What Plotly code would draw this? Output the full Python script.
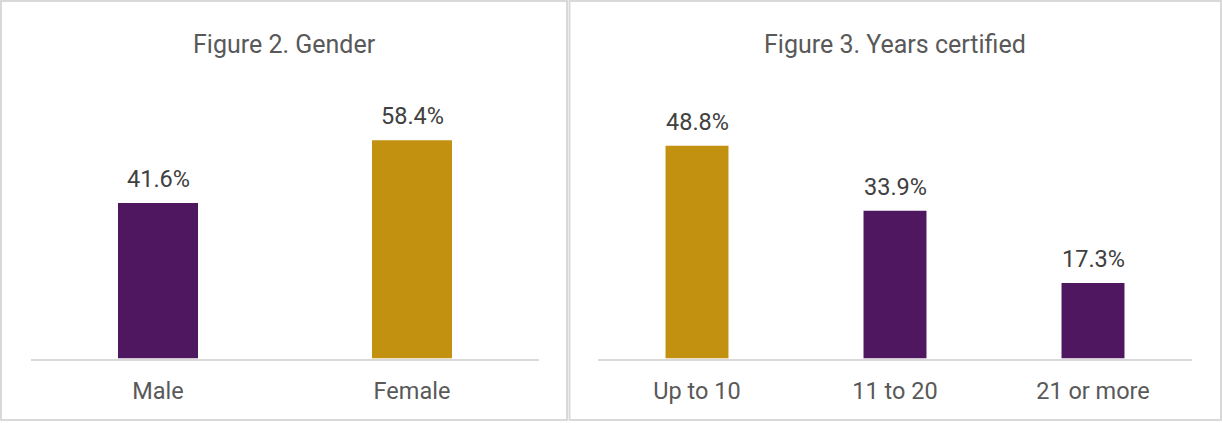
import plotly.graph_objects as go

# Figure 2 data
gender_cats = ["Male", "Female"]
gender_vals = [41.6, 58.4]
gender_colors = ["#4E1760", "#C1910F"]

# Figure 3 data
years_cats = ["Up to 10", "11 to 20", "21 or more"]
years_vals = [48.8, 33.9, 17.3]
years_colors = ["#C1910F", "#4E1760", "#4E1760"]

titles = ["Figure 2. Gender", "Figure 3. Years certified"]

W, H = 1222, 423
LABEL_FONT = dict(family="Roboto, sans-serif", size=23.5, color="#404040")
TICK_FONT = dict(family="Roboto, sans-serif", size=23.5, color="#595959")
TITLE_FONT = dict(family="Roboto, sans-serif", size=25, color="#595959")

fig = go.Figure()

fig.add_trace(go.Bar(x=gender_cats, y=gender_vals, marker=dict(color=gender_colors, line_width=0),
                     width=0.315, xaxis="x", yaxis="y", hoverinfo="skip"))
fig.add_trace(go.Bar(x=years_cats, y=years_vals, marker=dict(color=years_colors, line_width=0),
                     width=0.318, xaxis="x2", yaxis="y2", hoverinfo="skip"))

annotations = []
for cats, vals, xr, yr in [(gender_cats, gender_vals, "x", "y"),
                           (years_cats, years_vals, "x2", "y2")]:
    for c, v in zip(cats, vals):
        annotations.append(dict(x=c, y=v, xref=xr, yref=yr, text=f"{v:.1f}%",
                                showarrow=False, yanchor="bottom", yshift=8,
                                font=LABEL_FONT))

# panel titles
annotations.append(dict(x=284 / W, y=1 - 44 / H, xref="paper", yref="paper", text=titles[0],
                        showarrow=False, xanchor="center", yanchor="middle", font=TITLE_FONT))
annotations.append(dict(x=895.5 / W, y=1 - 44 / H, xref="paper", yref="paper", text=titles[1],
                        showarrow=False, xanchor="center", yanchor="middle", font=TITLE_FONT))

# panel frames
shapes = [
    dict(type="rect", xref="paper", yref="paper", x0=1 / W, x1=567 / W, y0=1 - 420 / H, y1=1 - 1 / H,
         line=dict(color="#D9D9D9", width=2), layer="below"),
    dict(type="rect", xref="paper", yref="paper", x0=569.5 / W, x1=1221 / W, y0=1 - 420 / H, y1=1 - 1 / H,
         line=dict(color="#D9D9D9", width=2), layer="below"),
]

ydom = [1 - 358.5 / H, 1 - 97 / H]
common_x = dict(showline=True, linecolor="#D9D9D9", linewidth=2, showgrid=False, zeroline=False,
                ticks="outside", ticklen=10, tickcolor="rgba(0,0,0,0)", tickfont=TICK_FONT,
                fixedrange=True)
common_y = dict(visible=False, showgrid=False, zeroline=False, fixedrange=True)

fig.update_layout(
    width=W, height=H,
    margin=dict(l=0, r=0, t=0, b=0),
    paper_bgcolor="white", plot_bgcolor="white",
    showlegend=False,
    xaxis=dict(domain=[31 / W, 539 / W], anchor="y", **common_x),
    yaxis=dict(domain=ydom, range=[0, 70], anchor="x", **common_y),
    xaxis2=dict(domain=[598 / W, 1192 / W], anchor="y2", **common_x),
    yaxis2=dict(domain=ydom, range=[0, 60], anchor="x2", **common_y),
    annotations=annotations,
    shapes=shapes,
)

fig.write_html("out.html", config=dict(displayModeBar=False))
